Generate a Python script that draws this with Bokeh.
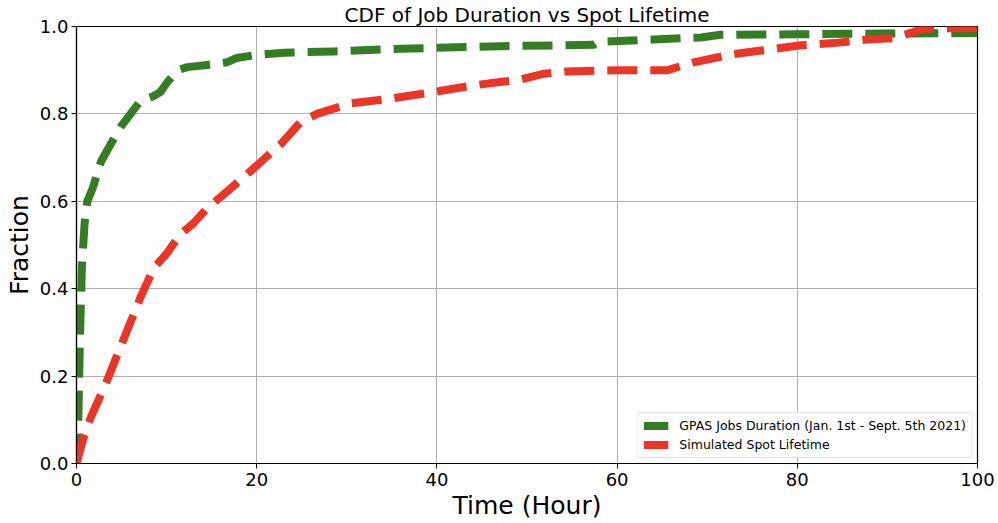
from bokeh.plotting import figure
from bokeh.models import ColumnDataSource, FixedTicker, PrintfTickFormatter, Legend, LegendItem, Range1d
from bokeh.embed import file_html
from bokeh.resources import INLINE

# ---- data ----
green_x = [0, 0.2, 0.4, 0.6, 0.9, 1.2, 1.8, 2.7, 3.5, 4.9, 6.0, 7.1, 8.5, 9.3, 10.1, 11.2,
           12.3, 14.5, 16.7, 17.8, 20, 23, 28.5, 36, 47, 57.4, 57.9, 64, 69.3, 71.5, 80, 90, 100]
green_y = [0, 0.1, 0.3, 0.45, 0.55, 0.6, 0.63, 0.69, 0.72, 0.77, 0.80, 0.83, 0.84, 0.85, 0.873, 0.90,
           0.907, 0.912, 0.918, 0.928, 0.935, 0.94, 0.943, 0.949, 0.955, 0.958, 0.965, 0.97, 0.975,
           0.981, 0.982, 0.984, 0.985]

red_x = [0, 0.8, 1.6, 3.4, 5.3, 7.1, 8.6, 10, 11.5, 13, 14.5, 16.7, 19.7, 21, 22.6, 24.9, 26.7,
         30.4, 34.9, 39.6, 44, 47, 48.9, 51.9, 54.5, 60, 65.6, 68.5, 72.9, 76, 80.4, 84, 87.7,
         90.7, 93.7, 95, 100]
red_y = [0, 0.06, 0.106, 0.19, 0.288, 0.38, 0.448, 0.48, 0.524, 0.55, 0.584, 0.622, 0.676, 0.70,
         0.729, 0.782, 0.80, 0.824, 0.835, 0.85, 0.865, 0.873, 0.877, 0.892, 0.897, 0.90, 0.90,
         0.918, 0.937, 0.945, 0.957, 0.962, 0.97, 0.973, 0.993, 0.996, 0.996]

series_labels = ["GPAS Jobs Duration (Jan. 1st - Sept. 5th 2021)", "Simulated Spot Lifetime"]
x_ticks = [0, 20, 40, 60, 80, 100]
y_ticks = [0.0, 0.2, 0.4, 0.6, 0.8, 1.0]
title_text = "CDF of Job Duration vs Spot Lifetime"
x_label = "Time (Hour)"
y_label = "Fraction"

GREEN = "#357d22"
RED = "#ea3527"
FONT = "DejaVu Sans"

p = figure(width=998, height=523, output_backend="svg", toolbar_location=None,
           x_range=Range1d(0, 100), y_range=Range1d(0, 1.0),
           min_border_left=76, min_border_right=21, min_border_top=24, min_border_bottom=60)

p.title.text = title_text
p.title.align = "center"
p.title.text_font = FONT
p.title.text_font_size = "20px"
p.title.text_font_style = "normal"
p.title.text_color = "black"
p.title.standoff = 0

src_g = ColumnDataSource(dict(x=green_x, y=green_y))
src_r = ColumnDataSource(dict(x=red_x, y=red_y))
rg = p.line("x", "y", source=src_g, line_color=GREEN, line_width=8, line_dash="30 13", line_join="round")
rr = p.line("x", "y", source=src_r, line_color=RED, line_width=8, line_dash="30 13", line_join="round")

for ax in (p.xaxis[0], p.yaxis[0]):
    ax.axis_line_color = "black"
    ax.axis_line_width = 1.2
    ax.major_tick_line_color = "black"
    ax.major_tick_out = 5
    ax.major_tick_in = 0
    ax.minor_tick_line_color = None
    ax.major_label_text_font = FONT
    ax.major_label_text_font_size = "18px"
    ax.major_label_text_color = "black"
    ax.axis_label_text_font = FONT
    ax.axis_label_text_font_size = "25px"
    ax.axis_label_text_font_style = "normal"
    ax.axis_label_text_color = "black"

p.xaxis.ticker = FixedTicker(ticks=x_ticks)
p.yaxis.ticker = FixedTicker(ticks=y_ticks)
p.xaxis.formatter = PrintfTickFormatter(format="%d")
p.yaxis.formatter = PrintfTickFormatter(format="%.1f")
p.xaxis.axis_label = x_label
p.yaxis.axis_label = y_label
p.xaxis.major_label_standoff = 4
p.yaxis.major_label_standoff = 3
p.xaxis.axis_label_standoff = 2
p.yaxis.axis_label_standoff = 3

p.xgrid.ticker = FixedTicker(ticks=x_ticks)
p.ygrid.ticker = FixedTicker(ticks=y_ticks)
p.grid.grid_line_color = "#b0b0b0"
p.grid.grid_line_width = 1

p.outline_line_color = "black"
p.outline_line_width = 1.2
p.outline_line_alpha = 1

legend = Legend(items=[LegendItem(label=series_labels[0], renderers=[rg]),
                       LegendItem(label=series_labels[1], renderers=[rr])],
                location="bottom_right")
legend.label_text_font = FONT
legend.label_text_font_size = "12.5px"
legend.label_text_color = "black"
legend.glyph_width = 25
legend.glyph_height = 15
legend.label_height = 15
legend.label_standoff = 11
legend.spacing = 4
legend.padding = 5
legend.margin = 5
legend.border_line_color = "#cccccc"
legend.border_line_width = 1
legend.background_fill_alpha = 0.8
p.add_layout(legend)

open("out.html", "w").write(file_html(p, INLINE))
